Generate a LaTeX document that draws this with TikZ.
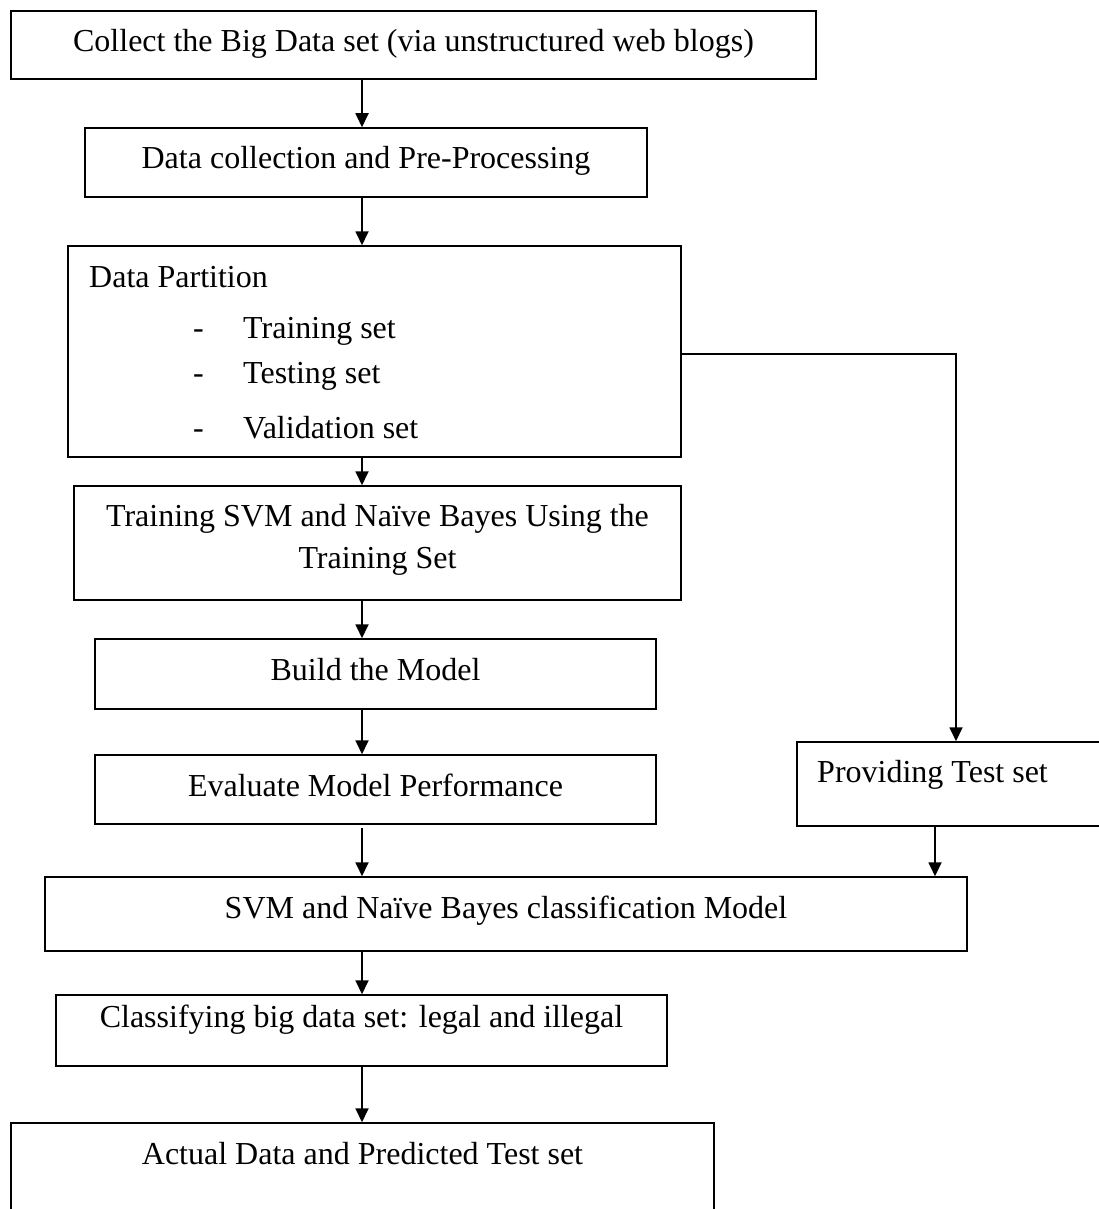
\documentclass[tikz,border=0pt]{standalone}
\usepackage{fontspec}
\setmainfont{Liberation Serif}
\usetikzlibrary{arrows.meta}
\begin{document}
\begin{tikzpicture}[x=1pt,y=-1pt,
  box/.style={draw,line width=1.5pt,rectangle,inner sep=0pt},
  txt/.style={inner sep=0pt,anchor=base,font=\fontsize{32}{38}\selectfont},
  ltxt/.style={txt,anchor=base west},
  arr/.style={line width=1.8pt,-{Triangle[width=13pt,length=14pt]}}]
\useasboundingbox (0,0) rectangle (1099,1209);
\clip (0,0) rectangle (1099,1209);
% boxes
\node[box,minimum width=805pt,minimum height=68pt] (b1) at (413.5,45) {};
\node[box,minimum width=562pt,minimum height=69pt] (b2) at (366,162.5) {};
\node[box,minimum width=613pt,minimum height=211pt] (b3) at (374.5,351.5) {};
\node[box,minimum width=607pt,minimum height=114pt] (b4) at (377.5,543) {};
\node[box,minimum width=561pt,minimum height=70pt] (b5) at (375.5,674) {};
\node[box,minimum width=561pt,minimum height=69pt] (b6) at (375.5,789.5) {};
\node[box,minimum width=922pt,minimum height=74pt] (b7) at (506,914) {};
\node[box,minimum width=611pt,minimum height=71pt] (b8) at (361.5,1030.5) {};
\node[box,minimum width=703pt,minimum height=137pt] (b9) at (362.5,1191.5) {};
\node[box,minimum width=323pt,minimum height=84pt] (b10) at (958.5,784) {};
% texts
\node[txt] (t1) at (413.5,52) {Collect the Big Data set (via unstructured web blogs)};
\node[txt] (t2) at (366,168) {Data collection and Pre-Processing};
\node[ltxt] (t3) at (89,287) {Data Partition};
\node[ltxt] (d1) at (193,338) {-};
\node[ltxt] (d2) at (193,383) {-};
\node[ltxt] (d3) at (193,438) {-};
\node[ltxt] (i1) at (243,338) {Training set};
\node[ltxt] (i2) at (243,383) {Testing set};
\node[ltxt] (i3) at (243,438) {Validation set};
\node[txt] (t4a) at (377.5,526) {Training SVM and Naïve Bayes Using the};
\node[txt] (t4b) at (377.5,568) {Training Set};
\node[txt] (t5) at (375.5,680) {Build the Model};
\node[txt] (t6) at (375.5,796) {Evaluate Model Performance};
\node[txt] (t7) at (506,918) {SVM and Naïve Bayes classification Model};
\node[txt] (t8) at (361.5,1027) {Classifying big data set: legal and illegal};
\node[txt] (t9) at (362.5,1164) {Actual Data and Predicted Test set};
\node[ltxt] (t10) at (817,782) {Providing Test set};
% connectors
\coordinate (mx) at (362,0);
\coordinate (ex) at (956,354);
\coordinate (px) at (935,0);
\draw[arr] (b1.south -| mx) -- (b2.north -| mx);
\draw[arr] (b2.south -| mx) -- (b3.north -| mx);
\draw[arr] (b3.south -| mx) -- (b4.north -| mx);
\draw[arr] (b4.south -| mx) -- (b5.north -| mx);
\draw[arr] (b5.south -| mx) -- (b6.north -| mx);
\draw[arr,shorten <=3pt] (b6.south -| mx) -- (b7.north -| mx);
\draw[arr] (b7.south -| mx) -- (b8.north -| mx);
\draw[arr] (b8.south -| mx) -- (b9.north -| mx);
\draw[arr] (b3.east |- ex) -- (ex) -- (b10.north -| ex);
\draw[arr] (b10.south -| px) -- (b7.north -| px);
\end{tikzpicture}
\end{document}
